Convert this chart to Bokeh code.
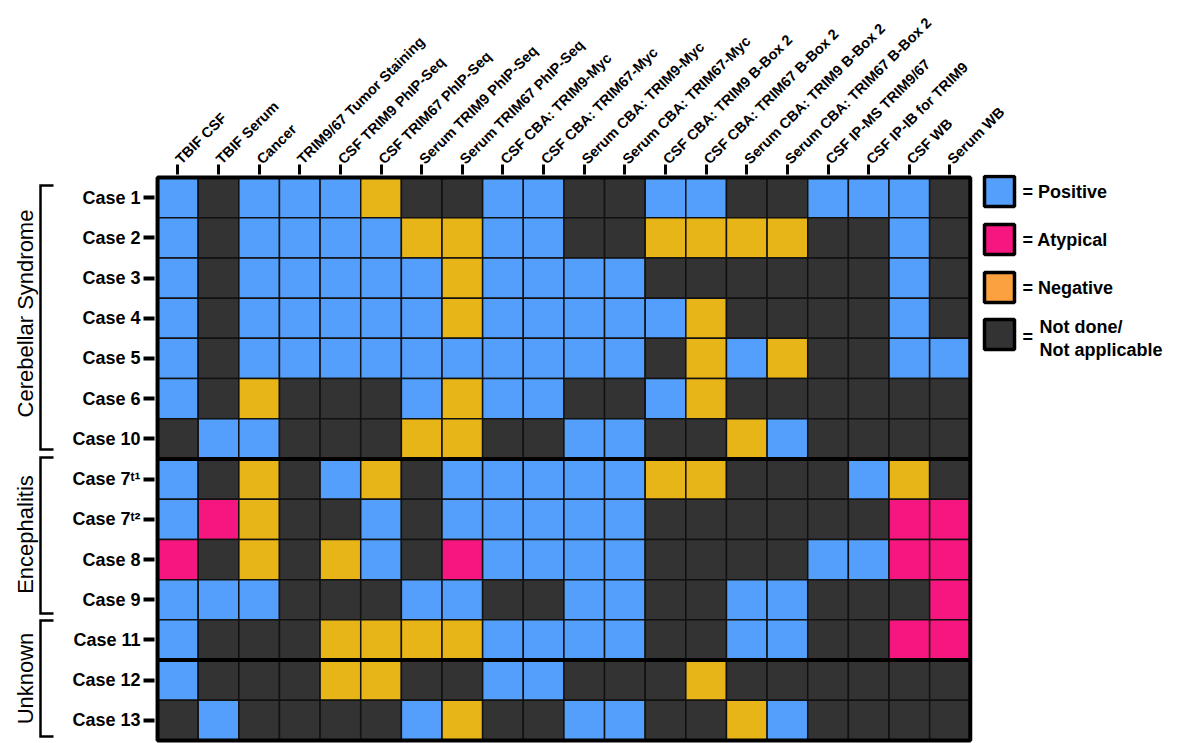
import math
from bokeh.plotting import figure
from bokeh.models import FactorRange, Range1d, ColumnDataSource
from bokeh.layouts import row
from bokeh.core.properties import value
from bokeh.embed import file_html
from bokeh.resources import INLINE

# ---------------- data ----------------
columns = [
    "TBIF CSF", "TBIF Serum", "Cancer", "TRIM9/67 Tumor Staining",
    "CSF TRIM9 PhIP-Seq", "CSF TRIM67 PhIP-Seq", "Serum TRIM9 PhIP-Seq",
    "Serum TRIM67 PhIP-Seq", "CSF CBA: TRIM9-Myc", "CSF CBA: TRIM67-Myc",
    "Serum CBA: TRIM9-Myc", "Serum CBA: TRIM67-Myc", "CSF CBA: TRIM9 B-Box 2",
    "CSF CBA: TRIM67 B-Box 2", "Serum CBA: TRIM9 B-Box 2",
    "Serum  CBA: TRIM67 B-Box 2", "CSF IP-MS TRIM9/67", "CSF IP-IB for TRIM9",
    "CSF WB", "Serum WB",
]
cases = ["Case 1", "Case 2", "Case 3", "Case 4", "Case 5", "Case 6", "Case 10",
         "Case 7\u1d57\u00b9", "Case 7\u1d57\u00b2", "Case 8", "Case 9",
         "Case 11", "Case 12", "Case 13"]

# P = Positive, A = Atypical, N = Negative, D = Not done / not applicable
results = [
    "PDPPPNDDPPDDPPDDPPPD",  # Case 1
    "PDPPPPNNPPDDNNNNDDPD",  # Case 2
    "PDPPPPPNPPPPDDDDDDPD",  # Case 3
    "PDPPPPPNPPPPPNDDDDPD",  # Case 4
    "PDPPPPPPPPPPDNPNDDPP",  # Case 5
    "PDNDDDPNPPDDPNDDDDDD",  # Case 6
    "DPPDDDNNDDPPDDNPDDDD",  # Case 10
    "PDNDPNDPPPPPNNDDDPND",  # Case 7 t1
    "PANDDPDPPPPPDDDDDDAA",  # Case 7 t2
    "ADNDNPDAPPPPDDDDPPAA",  # Case 8
    "PPPDDDPPDDPPDDPPDDDA",  # Case 9
    "PDDDNNNNPPPPDDPPDDAA",  # Case 11
    "PDDDNNDDPPDDDNDDDDDD",  # Case 12
    "DPDDDDPNDDPPDDNPDDDD",  # Case 13
]

groups = ["Cerebellar Syndrome", "Encephalitis", "Unknown"]
thick_after = ["Case 10", "Case 11"]

status_codes = ["P", "A", "N", "D"]
status_names = ["Positive", "Atypical", "Negative", "Not done/\nNot applicable"]
cell_colors = {"P": "#539FFB", "A": "#F5167F", "N": "#E8B519", "D": "#333333"}
legend_colors = ["#539FFB", "#F5167F", "#FBA13F", "#333333"]

# ---------------- layout constants ----------------
FONT = "Liberation Sans"
W, H = 1180, 743
LW = 65                       # left strip (brackets / group names)
FRAME_LEFT, FRAME_TOP = 154, 174
PAD = 0.075                   # synthetic padding on each side of the ranges
N_SPACER = 5                  # empty slots to the right of the grid (legend area)
NC, NR = len(columns), len(cases)
PPU_X = 40.65                 # pixels per column
FRAME_W = int(round((NC + N_SPACER + 2 * PAD) * PPU_X))
FRAME_H = H - FRAME_TOP
PPU_Y = FRAME_H / (NR + 2 * PAD)
MAIN_W = W - LW


def px2x(px):
    """page pixel x -> synthetic categorical x"""
    return (px - FRAME_LEFT) / (FRAME_W / (NC + N_SPACER + 2 * PAD)) - PAD


def py2y(py):
    """page pixel y (from top) -> synthetic categorical y"""
    return (H - py) / PPU_Y - PAD


spacers = [" " * (i + 1) for i in range(N_SPACER)]
x_range = FactorRange(*(columns + spacers), range_padding=PAD,
                      range_padding_units="absolute")
y_range = FactorRange(*reversed(cases), range_padding=PAD,
                      range_padding_units="absolute")

# ---------------- main heat-map ----------------
p = figure(width=MAIN_W, height=H, x_range=x_range, y_range=y_range,
           x_axis_location="above",
           output_backend="svg", toolbar_location=None, tools="",
           min_border_left=FRAME_LEFT - LW,
           min_border_right=MAIN_W - (FRAME_LEFT - LW) - FRAME_W,
           min_border_top=FRAME_TOP, min_border_bottom=0)
p.background_fill_color = "white"
p.border_fill_color = "white"
p.grid.visible = False
p.outline_line_color = None

xs, ys, cols = [], [], []
for case, rowcodes in zip(cases, results):
    for col, code in zip(columns, rowcodes):
        xs.append(col)
        ys.append(case)
        cols.append(cell_colors[code])
src = ColumnDataSource(dict(x=xs, y=ys, color=cols))
p.rect(x="x", y="y", width=1, height=1, source=src,
       fill_color="color", line_color="#111111", line_width=1.5)

# thick block separators and outer border of the grid
sep = [NR - (cases.index(n) + 1) for n in thick_after]
p.segment(x0=[0] * len(sep), x1=[NC] * len(sep), y0=sep, y1=sep,
          line_color="black", line_width=4)
p.rect(x=[NC / 2], y=[NR / 2], width=NC, height=NR, fill_color=None,
       line_color="black", line_width=4)

xa = p.xaxis[0]
xa.bounds = (0, NC)
xa.major_label_orientation = math.pi / 4
xa.major_label_text_font = FONT
xa.major_label_text_font_style = "bold"
xa.major_label_text_font_size = "14.5px"
xa.major_label_text_color = "black"
xa.major_label_standoff = 3
xa.major_tick_out = 10
xa.major_tick_in = 0
xa.major_tick_line_width = 3
xa.major_tick_line_color = "black"
xa.axis_line_color = None

ya = p.yaxis[0]
ya.major_label_text_font = FONT
ya.major_label_text_font_style = "bold"
ya.major_label_text_font_size = "18px"
ya.major_label_text_color = "black"
ya.major_label_standoff = 3
ya.major_tick_out = 11
ya.major_tick_in = 0
ya.major_tick_line_width = 4
ya.major_tick_line_color = "black"
ya.axis_line_color = None

# legend (drawn in the empty slots right of the grid)
box_tops = [176, 224, 272, 319]
p.rect(x=[px2x(999)] * 4, y=[py2y(t + 15) for t in box_tops],
       width=30, height=30, width_units="screen", height_units="screen",
       fill_color=legend_colors, line_color="black", line_width=3.5)
lx, ly, lt = [], [], []
for name, top in zip(status_names, box_tops):
    lines = name.split("\n")
    if len(lines) == 1:
        lx.append(px2x(1022)); ly.append(py2y(top + 15)); lt.append("= " + lines[0])
    else:
        lx.append(px2x(1022)); ly.append(py2y(top + 17)); lt.append("=")
        for i, ln in enumerate(lines):
            lx.append(px2x(1039)); ly.append(py2y(top + 8 + 22 * i)); lt.append(ln)
p.text(x=lx, y=ly, text=lt, text_align="left", text_baseline="middle",
       text_font=value(FONT), text_font_style="bold", text_font_size="18px",
       text_color="black")

# ---------------- left strip: group brackets ----------------
left = figure(width=LW, height=H, x_range=Range1d(0, LW), y_range=y_range,
              output_backend="svg", toolbar_location=None, tools="",
              x_axis_type=None, y_axis_type=None,
              min_border_left=0, min_border_right=0,
              min_border_top=FRAME_TOP, min_border_bottom=0)
left.grid.visible = False
left.outline_line_color = None
left.background_fill_color = "white"
left.border_fill_color = "white"

bracket_spans = [(185, 449), (457, 613), (620, 736)]
label_centers = [313, 534, 678]
bx, by = [], []
for (y0, y1) in bracket_spans:
    bx.append([53, 40, 40, 53])
    by.append([py2y(y0), py2y(y0), py2y(y1), py2y(y1)])
left.multi_line(xs=bx, ys=by, line_color="black", line_width=2.5,
                line_join="miter")
left.text(x=[25] * len(groups), y=[py2y(c) for c in label_centers], text=groups,
          angle=math.pi / 2, text_align="center", text_baseline="middle",
          text_font=value(FONT), text_font_size="22px", text_color="black")

layout = row(left, p, spacing=0)
open("out.html", "w").write(file_html(layout, INLINE))
